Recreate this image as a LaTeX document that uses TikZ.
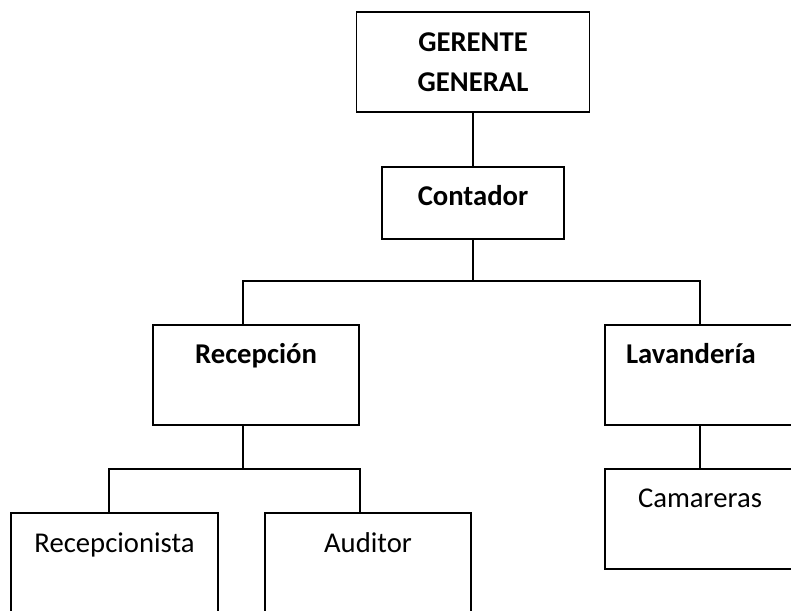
\documentclass[tikz,border=0pt]{standalone}
\usepackage{fontspec}
\setmainfont{Carlito}
\usetikzlibrary{positioning,calc}

\begin{document}
\begin{tikzpicture}[x=0.75pt,y=-0.75pt,line width=1.3pt,
  orgbox/.style={draw,rectangle,inner sep=0pt,outer sep=0pt,minimum height=75pt,
    font=\bfseries\fontsize{21.5}{30}\selectfont},
  leafbox/.style={orgbox,font=\mdseries\fontsize{21.5}{30}\selectfont}]
  \clip (0,0) rectangle (791,610);
  % Management
  \node[orgbox,minimum width=174.75pt,align=center] (gerente) at (473,62) {GERENTE\\GENERAL};
  \node[orgbox,minimum width=136.5pt,minimum height=54pt,
    text height=28.5pt,text depth=25.5pt] (contador) at (473,203) {Contador};
  % Departments
  \node[orgbox,minimum width=154.5pt,text height=28.5pt,text depth=46.5pt]
    (recepcion) at (256,375) {Recepción};
  \node[orgbox,text width=111pt,inner xsep=15.75pt,align=left,
    text height=28.5pt,text depth=46.5pt] (lavanderia) at (700,375) {Lavandería};
  % Staff
  \node[leafbox,minimum width=155.25pt,text height=29.25pt,text depth=45.75pt]
    (recepcionista) at (114.5,563) {Recepcionista};
  \node[leafbox,minimum width=154.5pt,text height=29.25pt,text depth=45.75pt]
    (auditor) at (368,563) {Auditor};
  \node[leafbox,minimum width=142.5pt,text height=28.5pt,text depth=46.5pt]
    (camareras) at (700,519) {Camareras};
  % Connectors
  \coordinate (busA) at (243,281);
  \coordinate (busB) at (700,281);
  \coordinate (busC) at (109,469);
  \coordinate (busD) at (360,469);
  \draw (gerente) -- (contador);
  \draw (contador.south) -- (contador.south |- busA);
  \draw (busA |- recepcion.north) -- (busA) -- (busB) -- (lavanderia.north);
  \draw (busA |- recepcion.south) -- (busA |- busC);
  \draw (busC |- recepcionista.north) -- (busC) -- (busD) -- (busD |- auditor.north);
  \draw (lavanderia) -- (camareras);
\end{tikzpicture}
\end{document}
